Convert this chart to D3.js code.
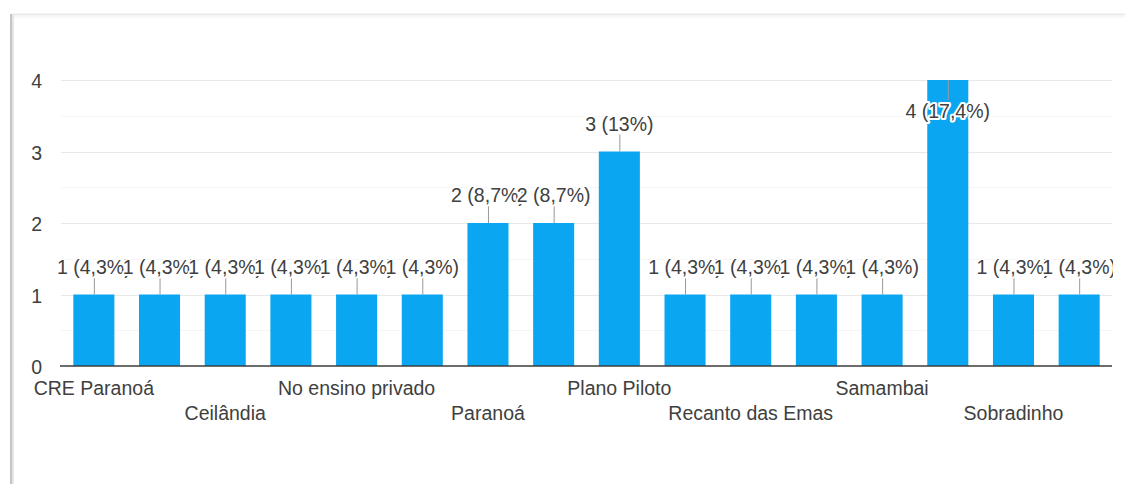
<!DOCTYPE html>
<html>
<head>
<meta charset="utf-8">
<script src="https://cdn.jsdelivr.net/npm/d3@7"></script>
<style>
  html, body { margin: 0; padding: 0; background: #fff; }
  svg { display: block; font-family: "Liberation Sans", Arial, sans-serif; }
</style>
</head>
<body>
<svg id="chart" width="1125" height="484"></svg>
<script>
// Responses per regional / school network
const categories = [
  "CRE Paranoá", "CRE Planaltina", "Ceilândia", "Gama",
  "No ensino privado", "Núcleo Bandeirante", "Paranoá", "Park Way",
  "Plano Piloto", "Planaltina", "Recanto das Emas", "Riacho Fundo",
  "Samambai", "Santa Maria", "Sobradinho", "Taguatinga"
];
const counts = [1, 1, 1, 1, 1, 1, 2, 2, 3, 1, 1, 1, 1, 4, 1, 1];
const yTicks = [0, 1, 2, 3, 4];
const yMinorTicks = [0.5, 1.5, 2.5, 3.5];

const total = d3.sum(counts);
const pctLabel = v => {
  const p = Math.round(v / total * 1000) / 10;
  return v + " (" + String(p).replace(".", ",") + "%)";
};

const FONT = 19.5;
const TEXT = "#404040";

const svg = d3.select("#chart");
const W = 1125, H = 484;
const plot = { left: 61, right: 1112, top: 80, bottom: 366 };

// card frame
svg.append("rect").attr("x", 0).attr("y", 0).attr("width", W).attr("height", H).attr("fill", "#fff");
svg.append("line").attr("x1", 12).attr("x2", W).attr("y1", 14.5).attr("y2", 14.5)
  .attr("stroke", "#e9e9e9").attr("stroke-width", 2);
svg.append("line").attr("x1", 12).attr("x2", W).attr("y1", 16.5).attr("y2", 16.5)
  .attr("stroke", "#f6f6f6").attr("stroke-width", 2);
svg.append("line").attr("x1", 11).attr("x2", 11).attr("y1", 14).attr("y2", H)
  .attr("stroke", "#c4c4c4").attr("stroke-width", 2);
svg.append("line").attr("x1", 13).attr("x2", 13).attr("y1", 15).attr("y2", H)
  .attr("stroke", "#e6e6e6").attr("stroke-width", 2);

const x = d3.scaleBand()
  .domain(d3.range(categories.length))
  .range([plot.left, plot.right])
  .paddingInner(0.375)
  .paddingOuter(0.1875);

const y = d3.scaleLinear().domain([0, 4]).range([plot.bottom, plot.top]);

// gridlines
svg.append("g").selectAll("line").data(yMinorTicks).join("line")
  .attr("x1", plot.left).attr("x2", plot.right)
  .attr("y1", d => Math.round(y(d)) + 0.5).attr("y2", d => Math.round(y(d)) + 0.5)
  .attr("stroke", "#f5f5f5").attr("stroke-width", 1);
svg.append("g").selectAll("line").data(yTicks.filter(d => d > 0)).join("line")
  .attr("x1", plot.left).attr("x2", plot.right)
  .attr("y1", d => Math.round(y(d)) + 0.5).attr("y2", d => Math.round(y(d)) + 0.5)
  .attr("stroke", "#e8e8e8").attr("stroke-width", 1);

// y axis labels
svg.append("g").selectAll("text").data(yTicks).join("text")
  .attr("x", 42).attr("y", d => y(d) + 8)
  .attr("text-anchor", "end")
  .attr("font-size", FONT).attr("fill", TEXT)
  .text(d => d);

// bars
svg.append("g").selectAll("rect").data(counts).join("rect")
  .attr("x", (d, i) => x(i))
  .attr("y", d => y(d))
  .attr("width", x.bandwidth())
  .attr("height", d => y(0) - y(d))
  .attr("fill", "#0aa6f2");

// baseline
svg.append("line").attr("x1", plot.left - 1).attr("x2", plot.right)
  .attr("y1", y(0)).attr("y2", y(0))
  .attr("stroke", "#3c3c3c").attr("stroke-width", 1.6);

// x axis labels: every other category, staggered over two rows
svg.append("g").selectAll("text")
  .data(categories.map((c, i) => ({ c, i })).filter(d => d.i % 2 === 0))
  .join("text")
  .attr("x", d => x(d.i) + x.bandwidth() / 2)
  .attr("y", d => (d.i / 2) % 2 === 0 ? 395 : 420)
  .attr("text-anchor", "middle")
  .attr("font-size", FONT).attr("fill", TEXT)
  .text(d => d.c);

// value annotations with stems, clipped to the plot
svg.append("clipPath").attr("id", "plotClip")
  .append("rect").attr("x", 0).attr("y", 0).attr("width", plot.right + 1).attr("height", H);
const ann = svg.append("g").attr("clip-path", "url(#plotClip)");
counts.forEach((v, i) => {
  const cx = x(i) + x.bandwidth() / 2;
  const top = y(v);
  const inside = top - 24 < plot.top;
  const g = ann.append("g");
  const stemEnd = inside ? top + 20 : top - 17;
  const baseY = inside ? top + 38 : top - 21;
  g.append("line").attr("x1", cx + 0.5).attr("x2", cx + 0.5)
    .attr("y1", top).attr("y2", stemEnd)
    .attr("stroke", "#999").attr("stroke-width", 1);
  g.append("text").attr("x", cx).attr("y", baseY)
    .attr("text-anchor", "middle").attr("font-size", FONT)
    .attr("fill", TEXT).attr("stroke", "#fff").attr("stroke-width", 4)
    .attr("paint-order", "stroke").attr("stroke-linejoin", "round")
    .text(pctLabel(v));
});
</script>
</body>
</html>
